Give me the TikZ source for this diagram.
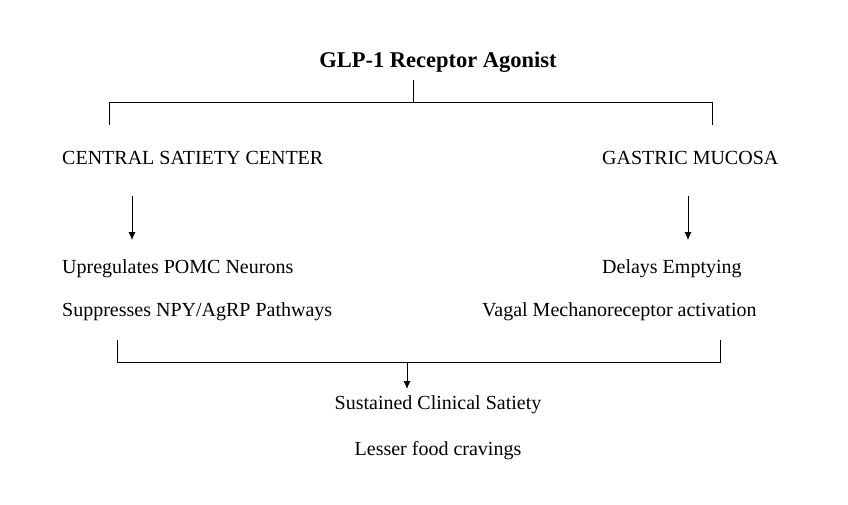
\documentclass[tikz,border=0pt]{standalone}
\usepackage{fontspec}
\setmainfont{Liberation Serif}
\usetikzlibrary{arrows.meta}
\begin{document}
\begin{tikzpicture}[x=1pt,y=-1pt,
  txt/.style={font=\fontsize{20}{24}\selectfont,inner sep=0pt},
  ln/.style={line width=0.8pt},
  arr/.style={ln,-{Latex[length=8pt,width=7pt]}}]
\useasboundingbox (0,0) rectangle (848,505);
\node[txt,font=\bfseries\fontsize{22.5}{26}\selectfont] (t) at (438,62) {GLP-1 Receptor Agonist};
\node[txt,anchor=west] (c) at (62,158) {CENTRAL SATIETY CENTER};
\node[txt,anchor=west] (g) at (602,158) {GASTRIC MUCOSA};
\node[txt,anchor=west] (u) at (62,269) {Upregulates POMC Neurons};
\node[txt,anchor=west] (s) at (62,312) {Suppresses NPY/AgRP Pathways};
\node[txt,anchor=west] (d) at (602,269) {Delays Emptying};
\node[txt,anchor=west] (v) at (482,312) {Vagal Mechanoreceptor activation};
\node[txt] (sc) at (438,405) {Sustained Clinical Satiety};
\node[txt] (lf) at (438,451) {Lesser food cravings};
\coordinate (a1) at (132,196); \coordinate (a2) at (132,240);
\coordinate (b1) at (688,196); \coordinate (b2) at (688,240);
\draw[ln] (413,80) -- (413,102);
\draw[ln] (109,125) -- (109,102) -- (712,102) -- (712,125);
\draw[arr] (a1) -- (a2);
\draw[arr] (b1) -- (b2);
\draw[ln] (117,340) -- (117,362) -- (720,362) -- (720,340);
\coordinate (m1) at (407,362); \coordinate (m2) at (407,389);
\draw[arr] (m1) -- (m2);
\end{tikzpicture}
\end{document}
